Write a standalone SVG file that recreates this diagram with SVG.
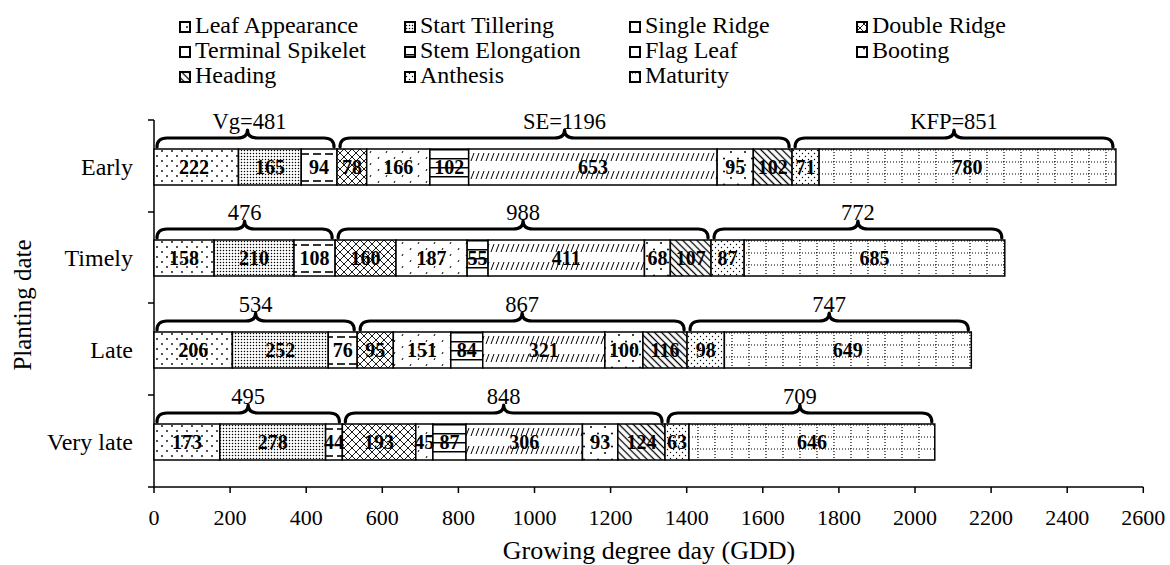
<svg xmlns="http://www.w3.org/2000/svg" width="1170" height="565" viewBox="0 0 1170 565">
<style>
text{font-family:"Liberation Serif","Times New Roman",serif;fill:#000}
.tk{font-size:22px;text-anchor:middle}
.cat{font-size:24px;text-anchor:end}
.lg{font-size:24px}
.bl{font-size:20px;font-weight:bold;text-anchor:middle}
.br{font-size:22.5px;text-anchor:middle}
.brace{fill:none;stroke:#000;stroke-width:3.2;stroke-linecap:round;stroke-linejoin:round}
.seg{stroke:#000;stroke-width:1.5}
.sw{stroke:#000;stroke-width:2}
.ax{stroke:#000;stroke-width:1.5;fill:none}
.p1{fill:url(#p1)}.p2{fill:url(#p2)}.p3{fill:url(#p3)}.p4{fill:url(#p4)}.p5{fill:url(#p5)}.p6{fill:url(#p6)}
.p7{fill:url(#p7)}.p8{fill:url(#p8)}.p9{fill:url(#p9)}.p10{fill:url(#p10)}.p11{fill:url(#p11)}
</style>
<defs>
<pattern id="p1" width="10" height="10" patternUnits="userSpaceOnUse"><rect width="10" height="10" fill="#fff"/><circle cx="2" cy="2" r="0.9"/><circle cx="7" cy="7" r="0.9"/></pattern>
<pattern id="p2" width="3" height="3" patternUnits="userSpaceOnUse"><rect width="3" height="3" fill="#fff"/><circle cx="1.5" cy="1.5" r="0.75"/></pattern>
<pattern id="p3" width="12" height="27" patternUnits="userSpaceOnUse"><rect width="12" height="27" fill="#fff"/><line x1="1" y1="5" x2="9" y2="5" stroke="#000" stroke-width="1.6"/></pattern>
<pattern id="p4" width="8" height="8" patternUnits="userSpaceOnUse"><rect width="8" height="8" fill="#fff"/><path d="M0,0L8,8M8,0L0,8" stroke="#000" stroke-width="0.9"/></pattern>
<pattern id="p5" width="16" height="12" patternUnits="userSpaceOnUse"><rect width="16" height="12" fill="#fff"/><path d="M3,2l-1,2M11,8l-1,2" stroke="#000" stroke-width="1"/></pattern>
<pattern id="p6" width="10" height="9" patternUnits="userSpaceOnUse"><rect width="10" height="9" fill="#fff"/><line x1="0" y1="0.75" x2="10" y2="0.75" stroke="#000" stroke-width="1.5"/></pattern>
<pattern id="p7" width="5" height="18" patternUnits="userSpaceOnUse"><rect width="5" height="18" fill="#fff"/><line x1="1" y1="12" x2="4" y2="4" stroke="#000" stroke-width="1"/></pattern>
<pattern id="p8" width="14" height="13" patternUnits="userSpaceOnUse"><rect width="14" height="13" fill="#fff"/><circle cx="3" cy="3" r="1"/><circle cx="10" cy="9.5" r="1"/></pattern>
<pattern id="p9" width="5" height="5" patternUnits="userSpaceOnUse" patternTransform="rotate(45)"><rect width="5" height="5" fill="#fff"/><line x1="0" y1="2.5" x2="5" y2="2.5" stroke="#000" stroke-width="1.3"/></pattern>
<pattern id="p10" width="6" height="6" patternUnits="userSpaceOnUse"><rect width="6" height="6" fill="#fff"/><circle cx="1.5" cy="1.5" r="0.7"/><circle cx="4.5" cy="4.5" r="0.7"/></pattern>
<pattern id="p11" width="17" height="12" patternUnits="userSpaceOnUse"><rect width="17" height="12" fill="#fff"/><line x1="1" y1="0" x2="1" y2="12" stroke="#000" stroke-width="1.2" stroke-dasharray="1 2"/><line x1="0" y1="1" x2="17" y2="1" stroke="#000" stroke-width="1.2" stroke-dasharray="1 2"/></pattern>
</defs>
<rect width="1170" height="565" fill="#fff"/>

<g id="legend">
<g id="lg-leaf"><rect class="sw p1" x="180" y="22" width="10" height="10"/><text class="lg" x="195" y="33">Leaf Appearance</text></g>
<g id="lg-till"><rect class="sw p2" x="405" y="22" width="10" height="10"/><text class="lg" x="420" y="33">Start Tillering</text></g>
<g id="lg-single"><rect class="sw p3" x="630" y="22" width="10" height="10"/><text class="lg" x="645" y="33">Single Ridge</text></g>
<g id="lg-double"><rect class="sw p4" x="857" y="22" width="10" height="10"/><text class="lg" x="872" y="33">Double Ridge</text></g>
<g id="lg-term"><rect class="sw p5" x="180" y="47" width="10" height="10"/><text class="lg" x="195" y="58">Terminal Spikelet</text></g>
<g id="lg-stem"><rect class="sw p6" x="405" y="47" width="10" height="10"/><text class="lg" x="420" y="58">Stem Elongation</text></g>
<g id="lg-flag"><rect class="sw p7" x="630" y="47" width="10" height="10"/><text class="lg" x="645" y="58">Flag Leaf</text></g>
<g id="lg-boot"><rect class="sw p8" x="857" y="47" width="10" height="10"/><text class="lg" x="872" y="58">Booting</text></g>
<g id="lg-head"><rect class="sw p9" x="180" y="72" width="10" height="10"/><text class="lg" x="195" y="83">Heading</text></g>
<g id="lg-anth"><rect class="sw p10" x="405" y="72" width="10" height="10"/><text class="lg" x="420" y="83">Anthesis</text></g>
<g id="lg-mat"><rect class="sw p11" x="630" y="72" width="10" height="10"/><text class="lg" x="645" y="83">Maturity</text></g>
</g>

<g id="axes">
<path class="ax" d="M154,120V487H1143.3"/>
<path class="ax" d="M148,120H154M148,212H154M148,303H154M148,395H154M148,487H154"/>
<path class="ax" d="M154,487v6M230.1,487v6M306.2,487v6M382.3,487v6M458.4,487v6M534.5,487v6M610.6,487v6M686.7,487v6M762.8,487v6M838.9,487v6M915,487v6M991.1,487v6M1067.2,487v6M1143.3,487v6"/>
<text class="tk" x="154" y="525">0</text>
<text class="tk" x="230.1" y="525">200</text>
<text class="tk" x="306.2" y="525">400</text>
<text class="tk" x="382.3" y="525">600</text>
<text class="tk" x="458.4" y="525">800</text>
<text class="tk" x="534.5" y="525">1000</text>
<text class="tk" x="610.6" y="525">1200</text>
<text class="tk" x="686.7" y="525">1400</text>
<text class="tk" x="762.8" y="525">1600</text>
<text class="tk" x="838.9" y="525">1800</text>
<text class="tk" x="915" y="525">2000</text>
<text class="tk" x="991.1" y="525">2200</text>
<text class="tk" x="1067.2" y="525">2400</text>
<text class="tk" x="1143.3" y="525">2600</text>
<text x="649" y="559" style="font-size:26px;text-anchor:middle">Growing degree day (GDD)</text>
<text transform="translate(31,305) rotate(-90)" style="font-size:25px;text-anchor:middle">Planting date</text>
<text class="cat" x="133" y="175">Early</text>
<text class="cat" x="133" y="266">Timely</text>
<text class="cat" x="133" y="358">Late</text>
<text class="cat" x="133" y="450">Very late</text>
</g>

<g id="row-early" transform="translate(0,149)">
<rect class="seg p1" x="154" y="0" width="84.47" height="36"/>
<rect class="seg p2" x="238.47" y="0" width="62.78" height="36"/>
<rect class="seg p3" x="301.25" y="0" width="35.77" height="36"/>
<rect class="seg p4" x="337.02" y="0" width="29.68" height="36"/>
<rect class="seg p5" x="366.70" y="0" width="63.16" height="36"/>
<rect class="seg p6" x="429.86" y="0" width="38.81" height="36"/>
<rect class="seg p7" x="468.67" y="0" width="248.47" height="36"/>
<rect class="seg p8" x="717.14" y="0" width="36.15" height="36"/>
<rect class="seg p9" x="753.29" y="0" width="38.81" height="36"/>
<rect class="seg p10" x="792.10" y="0" width="27.01" height="36"/>
<rect class="seg p11" x="819.11" y="0" width="296.79" height="36"/>
<text class="bl" x="194" y="25">222</text>
<text class="bl" x="269.9" y="25">165</text>
<text class="bl" x="319.1" y="25">94</text>
<text class="bl" x="351.9" y="25">78</text>
<text class="bl" x="398.3" y="25">166</text>
<text class="bl" x="449.3" y="25">102</text>
<text class="bl" x="592.9" y="25">653</text>
<text class="bl" x="735.2" y="25">95</text>
<text class="bl" x="772.7" y="25">102</text>
<text class="bl" x="805.6" y="25">71</text>
<text class="bl" x="967.5" y="25">780</text>
</g>

<g id="row-timely" transform="translate(0,240)">
<rect class="seg p1" x="154" y="0" width="60.12" height="36"/>
<rect class="seg p2" x="214.12" y="0" width="79.90" height="36"/>
<rect class="seg p3" x="294.02" y="0" width="41.10" height="36"/>
<rect class="seg p4" x="335.12" y="0" width="60.88" height="36"/>
<rect class="seg p5" x="396.00" y="0" width="71.15" height="36"/>
<rect class="seg p6" x="467.15" y="0" width="20.93" height="36"/>
<rect class="seg p7" x="488.08" y="0" width="156.38" height="36"/>
<rect class="seg p8" x="644.46" y="0" width="25.88" height="36"/>
<rect class="seg p9" x="670.34" y="0" width="40.72" height="36"/>
<rect class="seg p10" x="711.06" y="0" width="33.10" height="36"/>
<rect class="seg p11" x="744.16" y="0" width="260.64" height="36"/>
<text class="bl" x="184.06" y="25">158</text>
<text class="bl" x="254.07" y="25">210</text>
<text class="bl" x="314.57" y="25">108</text>
<text class="bl" x="365.56" y="25">160</text>
<text class="bl" x="431.58" y="25">187</text>
<text class="bl" x="477.62" y="25">55</text>
<text class="bl" x="566.27" y="25">411</text>
<text class="bl" x="657.40" y="25">68</text>
<text class="bl" x="690.70" y="25">107</text>
<text class="bl" x="727.61" y="25">87</text>
<text class="bl" x="874.48" y="25">685</text>
</g>

<g id="row-late" transform="translate(0,332)">
<rect class="seg p1" x="154" y="0" width="78.38" height="36"/>
<rect class="seg p2" x="232.38" y="0" width="95.89" height="36"/>
<rect class="seg p3" x="328.27" y="0" width="28.92" height="36"/>
<rect class="seg p4" x="357.19" y="0" width="36.14" height="36"/>
<rect class="seg p5" x="393.33" y="0" width="57.46" height="36"/>
<rect class="seg p6" x="450.79" y="0" width="31.96" height="36"/>
<rect class="seg p7" x="482.75" y="0" width="122.14" height="36"/>
<rect class="seg p8" x="604.89" y="0" width="38.05" height="36"/>
<rect class="seg p9" x="642.94" y="0" width="44.14" height="36"/>
<rect class="seg p10" x="687.08" y="0" width="37.29" height="36"/>
<rect class="seg p11" x="724.37" y="0" width="246.94" height="36"/>
<text class="bl" x="193.19" y="25">206</text>
<text class="bl" x="280.33" y="25">252</text>
<text class="bl" x="342.73" y="25">76</text>
<text class="bl" x="375.26" y="25">95</text>
<text class="bl" x="422.06" y="25">151</text>
<text class="bl" x="466.77" y="25">84</text>
<text class="bl" x="543.82" y="25">321</text>
<text class="bl" x="623.92" y="25">100</text>
<text class="bl" x="665.01" y="25">116</text>
<text class="bl" x="705.73" y="25">98</text>
<text class="bl" x="847.84" y="25">649</text>
</g>

<g id="row-verylate" transform="translate(0,424)">
<rect class="seg p1" x="154" y="0" width="65.83" height="36"/>
<rect class="seg p2" x="219.83" y="0" width="105.78" height="36"/>
<rect class="seg p3" x="325.61" y="0" width="16.74" height="36"/>
<rect class="seg p4" x="342.35" y="0" width="73.44" height="36"/>
<rect class="seg p5" x="415.79" y="0" width="17.12" height="36"/>
<rect class="seg p6" x="432.91" y="0" width="33.10" height="36"/>
<rect class="seg p7" x="466.01" y="0" width="116.43" height="36"/>
<rect class="seg p8" x="582.44" y="0" width="35.39" height="36"/>
<rect class="seg p9" x="617.83" y="0" width="47.18" height="36"/>
<rect class="seg p10" x="665.01" y="0" width="23.97" height="36"/>
<rect class="seg p11" x="688.98" y="0" width="245.81" height="36"/>
<text class="bl" x="186.92" y="25">173</text>
<text class="bl" x="272.72" y="25">278</text>
<text class="bl" x="333.98" y="25">44</text>
<text class="bl" x="379.07" y="25">193</text>
<text class="bl" x="424.35" y="25">45</text>
<text class="bl" x="449.46" y="25">87</text>
<text class="bl" x="524.23" y="25">306</text>
<text class="bl" x="600.14" y="25">93</text>
<text class="bl" x="641.42" y="25">124</text>
<text class="bl" x="677.0" y="25">63</text>
<text class="bl" x="811.89" y="25">646</text>
</g>

<g id="braces">
<g transform="translate(0,149)">
<path class="brace" d="M157,-2Q157,-11 167,-11L237.51,-11Q247.51,-11 247.51,-19Q247.51,-11 257.51,-11L324.02,-11Q334.02,-11 334.02,-2"/>
<path class="brace" d="M340.02,-2Q340.02,-11 350.02,-11L554.56,-11Q564.56,-11 564.56,-19Q564.56,-11 574.56,-11L779.1,-11Q789.1,-11 789.1,-2"/>
<path class="brace" d="M795.1,-2Q795.1,-11 805.1,-11L944,-11Q954,-11 954,-19Q954,-11 964,-11L1102.9,-11Q1112.9,-11 1112.9,-2"/>
<text class="br" x="249.5" y="-20">Vg=481</text>
<text class="br" x="564.56" y="-20">SE=1196</text>
<text class="br" x="954" y="-20">KFP=851</text>
</g>
<g transform="translate(0,240)">
<path class="brace" d="M157,-2Q157,-11 167,-11L234.56,-11Q244.56,-11 244.56,-19Q244.56,-11 254.56,-11L322.12,-11Q332.12,-11 332.12,-2"/>
<path class="brace" d="M338.12,-2Q338.12,-11 348.12,-11L513.09,-11Q523.09,-11 523.09,-19Q523.09,-11 533.09,-11L698.06,-11Q708.06,-11 708.06,-2"/>
<path class="brace" d="M714.06,-2Q714.06,-11 724.06,-11L847.93,-11Q857.93,-11 857.93,-19Q857.93,-11 867.93,-11L991.8,-11Q1001.8,-11 1001.8,-2"/>
<text class="br" x="244.56" y="-20">476</text>
<text class="br" x="523.09" y="-20">988</text>
<text class="br" x="857.93" y="-20">772</text>
</g>
<g transform="translate(0,332)">
<path class="brace" d="M157,-2Q157,-11 167,-11L245.6,-11Q255.6,-11 255.6,-19Q255.6,-11 265.6,-11L344.19,-11Q354.19,-11 354.19,-2"/>
<path class="brace" d="M360.19,-2Q360.19,-11 370.19,-11L512.14,-11Q522.14,-11 522.14,-19Q522.14,-11 532.14,-11L674.08,-11Q684.08,-11 684.08,-2"/>
<path class="brace" d="M690.08,-2Q690.08,-11 700.08,-11L819.2,-11Q829.2,-11 829.2,-19Q829.2,-11 839.2,-11L958.31,-11Q968.31,-11 968.31,-2"/>
<text class="br" x="255.6" y="-20">534</text>
<text class="br" x="522.14" y="-20">867</text>
<text class="br" x="829.2" y="-20">747</text>
</g>
<g transform="translate(0,424)">
<path class="brace" d="M157,-2Q157,-11 167,-11L238.18,-11Q248.18,-11 248.18,-19Q248.18,-11 258.18,-11L329.35,-11Q339.35,-11 339.35,-2"/>
<path class="brace" d="M345.35,-2Q345.35,-11 355.35,-11L493.68,-11Q503.68,-11 503.68,-19Q503.68,-11 513.68,-11L652.01,-11Q662.01,-11 662.01,-2"/>
<path class="brace" d="M668.01,-2Q668.01,-11 678.01,-11L789.9,-11Q799.9,-11 799.9,-19Q799.9,-11 809.9,-11L921.79,-11Q931.79,-11 931.79,-2"/>
<text class="br" x="248.18" y="-20">495</text>
<text class="br" x="503.68" y="-20">848</text>
<text class="br" x="799.9" y="-20">709</text>
</g>
</g>
</svg>
